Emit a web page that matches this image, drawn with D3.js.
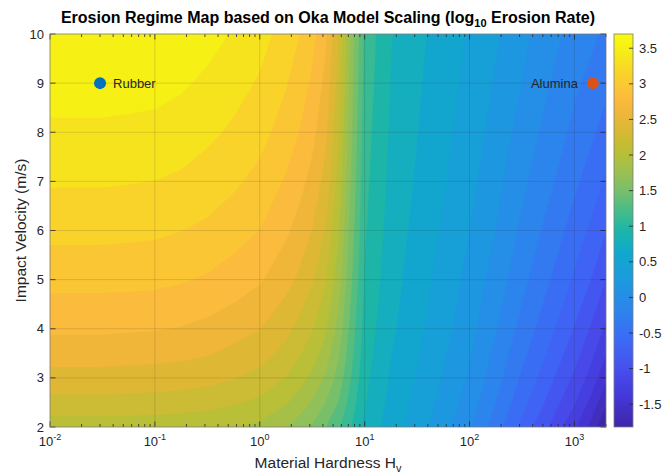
<!DOCTYPE html>
<html>
<head>
<meta charset="utf-8">
<script src="https://cdn.jsdelivr.net/npm/d3@7"></script>
<style>
body { margin: 0; background: #fff; font-family: "Liberation Sans", Arial, sans-serif; }
</style>
</head>
<body>
<svg id="chart" width="663" height="473"></svg>
<script>
// grid: columns are log10(Hv), rows are impact velocity (m/s)
var hardnessExp = [-2, -1.5, -1, -0.75, -0.5, -0.25, 0, 0.25, 0.375, 0.5, 0.625, 0.75, 0.875, 1, 1.25, 1.5, 1.75, 2, 2.25, 2.5, 2.75, 3, 3.15, 3.3];
var velocities = [2, 2.5, 3, 3.5, 4, 5, 6, 7, 8, 9, 10];
// log10 erosion rate, one row per velocity (bottom to top)
var erosionRows = [
    [2.13, 2.13, 2.12, 2.11, 2.09, 2.05, 2.00, 1.87, 1.77, 1.65, 1.50, 1.33, 1.12, 0.90, 0.66, 0.48, 0.27, 0.05, -0.26, -0.59, -0.90, -1.24, -1.50, -1.82],
    [2.35, 2.35, 2.34, 2.32, 2.30, 2.25, 2.19, 2.06, 1.96, 1.84, 1.68, 1.48, 1.21, 0.95, 0.70, 0.52, 0.33, 0.12, -0.17, -0.47, -0.76, -1.07, -1.31, -1.60],
    [2.53, 2.53, 2.51, 2.50, 2.47, 2.42, 2.35, 2.22, 2.12, 2.00, 1.83, 1.60, 1.29, 0.99, 0.73, 0.56, 0.37, 0.18, -0.09, -0.38, -0.65, -0.94, -1.15, -1.41],
    [2.68, 2.68, 2.66, 2.64, 2.61, 2.55, 2.49, 2.35, 2.25, 2.13, 1.96, 1.70, 1.35, 1.02, 0.76, 0.59, 0.41, 0.22, -0.03, -0.30, -0.55, -0.83, -1.02, -1.26],
    [2.81, 2.81, 2.79, 2.77, 2.73, 2.67, 2.60, 2.46, 2.36, 2.24, 2.07, 1.79, 1.40, 1.05, 0.79, 0.62, 0.45, 0.27, 0.03, -0.23, -0.47, -0.73, -0.91, -1.12],
    [3.02, 3.02, 3.01, 2.98, 2.94, 2.88, 2.80, 2.66, 2.56, 2.43, 2.25, 1.94, 1.50, 1.10, 0.83, 0.66, 0.50, 0.33, 0.12, -0.11, -0.33, -0.56, -0.71, -0.90],
    [3.20, 3.20, 3.18, 3.15, 3.11, 3.04, 2.96, 2.81, 2.71, 2.59, 2.40, 2.06, 1.57, 1.14, 0.86, 0.70, 0.55, 0.39, 0.20, -0.02, -0.22, -0.43, -0.56, -0.71],
    [3.35, 3.35, 3.33, 3.30, 3.25, 3.18, 3.09, 2.94, 2.84, 2.72, 2.53, 2.16, 1.63, 1.17, 0.89, 0.73, 0.59, 0.44, 0.26, 0.06, -0.12, -0.31, -0.43, -0.56],
    [3.48, 3.48, 3.46, 3.43, 3.37, 3.30, 3.21, 3.06, 2.96, 2.83, 2.64, 2.25, 1.69, 1.20, 0.91, 0.76, 0.62, 0.48, 0.32, 0.13, -0.04, -0.21, -0.31, -0.42],
    [3.60, 3.60, 3.58, 3.54, 3.48, 3.40, 3.31, 3.16, 3.06, 2.93, 2.73, 2.33, 1.74, 1.23, 0.93, 0.78, 0.65, 0.52, 0.37, 0.20, 0.03, -0.13, -0.21, -0.31],
    [3.70, 3.70, 3.68, 3.64, 3.58, 3.50, 3.40, 3.25, 3.15, 3.02, 2.82, 2.40, 1.78, 1.25, 0.95, 0.80, 0.68, 0.55, 0.41, 0.25, 0.10, -0.05, -0.12, -0.20]
];
var colorLimits = [-1.82, 3.70];
var levelCount = 30;

var xTickExp = [-2, -1, 0, 1, 2, 3];
var yTicks = [2, 3, 4, 5, 6, 7, 8, 9, 10];
var cbarTicks = [-1.5, -1, -0.5, 0, 0.5, 1, 1.5, 2, 2.5, 3, 3.5];

var markerNames = ["Rubber", "Alumina"];
var markerHardness = [0.03, 1500];
var markerVelocity = [9, 9];
var markerColors = ["#0072BD", "#D95319"];

// parula-like colormap
var parulaStops = [0, 0.08, 0.15, 0.22, 0.30, 0.38, 0.45, 0.5, 0.55, 0.6, 0.65, 0.7, 0.75, 0.8, 0.84, 0.9, 0.95, 1];
var parulaColors = ["#3e26a8", "#4538da", "#4750ee", "#3c6af6", "#2c85ec", "#1a9bdd", "#10aacb", "#1db5a8", "#45bc8a", "#78bf6a", "#9cc050", "#b9bf36", "#d6b933", "#efb63a", "#fdbc3c", "#f9d32a", "#f5eb18", "#f9fb0e"];

var svg = d3.select("#chart");
var padL = 50, padR = 606, padT = 34, padB = 427;

var x = d3.scaleLog().domain([0.01, 2000]).range([padL, padR]);
var y = d3.scaleLinear().domain([2, 10]).range([padB, padT]);
var t = d3.scaleLinear().domain(colorLimits).range([0, 1]);
var parula = d3.scaleLinear().domain(parulaStops).range(parulaColors).interpolate(d3.interpolateRgb);
var color = function(v) { return parula(t(v)); };

// grid index -> data coordinates (piecewise linear between the read grid points)
var n = hardnessExp.length, m = velocities.length;
var idxX = d3.scaleLinear().domain(d3.range(n)).range(hardnessExp).clamp(true);
var idxY = d3.scaleLinear().domain(d3.range(m)).range(velocities).clamp(true);

var values = [];
erosionRows.forEach(function(row) { row.forEach(function(v) { values.push(v); }); });

var levels = d3.range(levelCount + 1).map(function(i) {
    return colorLimits[0] + i * (colorLimits[1] - colorLimits[0]) / levelCount;
});
levels[0] = colorLimits[0] - 1e-6;

var contours = d3.contours().size([n, m]).thresholds(levels)(values);

var toScreen = d3.geoTransform({
    point: function(cx, cy) {
        var hx = Math.pow(10, idxX(cx - 0.5));
        var vy = idxY(cy - 0.5);
        this.stream.point(x(hx), y(vy));
    }
});
var path = d3.geoPath(toScreen);

svg.append("clipPath").attr("id", "plotClip")
    .append("rect").attr("x", padL).attr("y", padT).attr("width", padR - padL).attr("height", padB - padT);

var plot = svg.append("g").attr("clip-path", "url(#plotClip)");
plot.append("rect").attr("x", padL).attr("y", padT).attr("width", padR - padL).attr("height", padB - padT)
    .attr("fill", color(colorLimits[0]));
plot.selectAll("path.band").data(contours).enter().append("path")
    .attr("class", "band")
    .attr("d", path)
    .attr("fill", function(d) { return color(Math.max(d.value, colorLimits[0])); })
    .attr("stroke", function(d) { return color(Math.max(d.value, colorLimits[0])); })
    .attr("stroke-width", 0.6);

// grid lines
var grid = svg.append("g").attr("stroke", "#262626").attr("stroke-opacity", 0.15).attr("stroke-width", 1);
xTickExp.slice(1).forEach(function(e) {
    grid.append("line").attr("x1", x(Math.pow(10, e))).attr("x2", x(Math.pow(10, e)))
        .attr("y1", padT).attr("y2", padB);
});
yTicks.slice(1, -1).forEach(function(v) {
    grid.append("line").attr("x1", padL).attr("x2", padR).attr("y1", y(v)).attr("y2", y(v));
});

// ticks (inward, on all four sides)
var ticks = svg.append("g").attr("stroke", "#262626").attr("stroke-width", 0.8);
xTickExp.forEach(function(e) {
    var base = Math.pow(10, e);
    var px = x(base);
    ticks.append("line").attr("x1", px).attr("x2", px).attr("y1", padB).attr("y2", padB - 5.5);
    ticks.append("line").attr("x1", px).attr("x2", px).attr("y1", padT).attr("y2", padT + 5.5);
    for (var k = 2; k <= 9; k++) {
        var val = base * k;
        if (val > 2000) break;
        var mx = x(val);
        ticks.append("line").attr("x1", mx).attr("x2", mx).attr("y1", padB).attr("y2", padB - 3);
        ticks.append("line").attr("x1", mx).attr("x2", mx).attr("y1", padT).attr("y2", padT + 3);
    }
});
yTicks.forEach(function(v) {
    ticks.append("line").attr("x1", padL).attr("x2", padL + 5.5).attr("y1", y(v)).attr("y2", y(v));
    ticks.append("line").attr("x1", padR).attr("x2", padR - 5.5).attr("y1", y(v)).attr("y2", y(v));
});

svg.append("rect").attr("x", padL).attr("y", padT).attr("width", padR - padL).attr("height", padB - padT)
    .attr("fill", "none").attr("stroke", "#7a7a7a").attr("stroke-width", 0.8);

// tick labels
var xLabels = svg.append("g").attr("font-size", 13).attr("fill", "#262626");
xTickExp.forEach(function(e) {
    var tx = xLabels.append("text").attr("x", x(Math.pow(10, e))).attr("y", 446).attr("text-anchor", "middle");
    tx.append("tspan").text("10");
    tx.append("tspan").attr("dy", -6).attr("font-size", 9).text(e);
});
var yLabels = svg.append("g").attr("font-size", 13).attr("fill", "#262626").attr("text-anchor", "end");
yTicks.forEach(function(v) {
    yLabels.append("text").attr("x", 44).attr("y", y(v)).attr("dy", "0.35em").text(v);
});

// axis labels and title
svg.append("text").attr("x", (padL + padR) / 2).attr("y", 468).attr("text-anchor", "middle")
    .attr("font-size", 15.5).attr("fill", "#262626")
    .call(function(s) {
        s.append("tspan").text("Material Hardness H");
        s.append("tspan").attr("dy", 4).attr("font-size", 11).text("v");
    });
svg.append("text").attr("transform", "translate(26," + ((padT + padB) / 2) + ") rotate(-90)")
    .attr("text-anchor", "middle").attr("font-size", 15.5).attr("fill", "#262626")
    .text("Impact Velocity (m/s)");
svg.append("text").attr("x", (padL + padR) / 2).attr("y", 23).attr("text-anchor", "middle")
    .attr("font-size", 16).attr("font-weight", "bold").attr("fill", "#000")
    .call(function(s) {
        s.append("tspan").text("Erosion Regime Map based on Oka Model Scaling (log");
        s.append("tspan").attr("dy", 4).attr("font-size", 11).text("10");
        s.append("tspan").attr("dy", -4).text(" Erosion Rate)");
    });

// material markers
markerNames.forEach(function(name, i) {
    var mx = x(markerHardness[i]), my = y(markerVelocity[i]);
    svg.append("circle").attr("cx", mx).attr("cy", my).attr("r", 6).attr("fill", markerColors[i]);
    var onLeft = markerHardness[i] > 100;
    svg.append("text").attr("x", onLeft ? mx - 15 : mx + 13).attr("y", my).attr("dy", "0.35em")
        .attr("text-anchor", onLeft ? "end" : "start").attr("font-size", 13).attr("fill", "#262626")
        .text(name);
});

// colorbar
var cbX = 614, cbW = 19;
var cb = d3.scaleLinear().domain(colorLimits).range([padB, padT]);
var grad = svg.append("defs").append("linearGradient").attr("id", "cbGrad")
    .attr("x1", 0).attr("y1", 1).attr("x2", 0).attr("y2", 0);
parulaStops.forEach(function(s, i) {
    grad.append("stop").attr("offset", s).attr("stop-color", parulaColors[i]);
});
svg.append("rect").attr("x", cbX).attr("y", padT).attr("width", cbW).attr("height", padB - padT)
    .attr("fill", "url(#cbGrad)").attr("stroke", "#7a7a7a").attr("stroke-width", 0.8);
var cbAxis = svg.append("g").attr("font-size", 13).attr("fill", "#262626");
cbarTicks.forEach(function(v) {
    cbAxis.append("line").attr("x1", cbX + cbW).attr("x2", cbX + cbW - 4).attr("y1", cb(v)).attr("y2", cb(v))
        .attr("stroke", "#262626").attr("stroke-width", 0.8);
    cbAxis.append("text").attr("x", cbX + cbW + 6).attr("y", cb(v)).attr("dy", "0.35em").text(v);
});
</script>
</body>
</html>
